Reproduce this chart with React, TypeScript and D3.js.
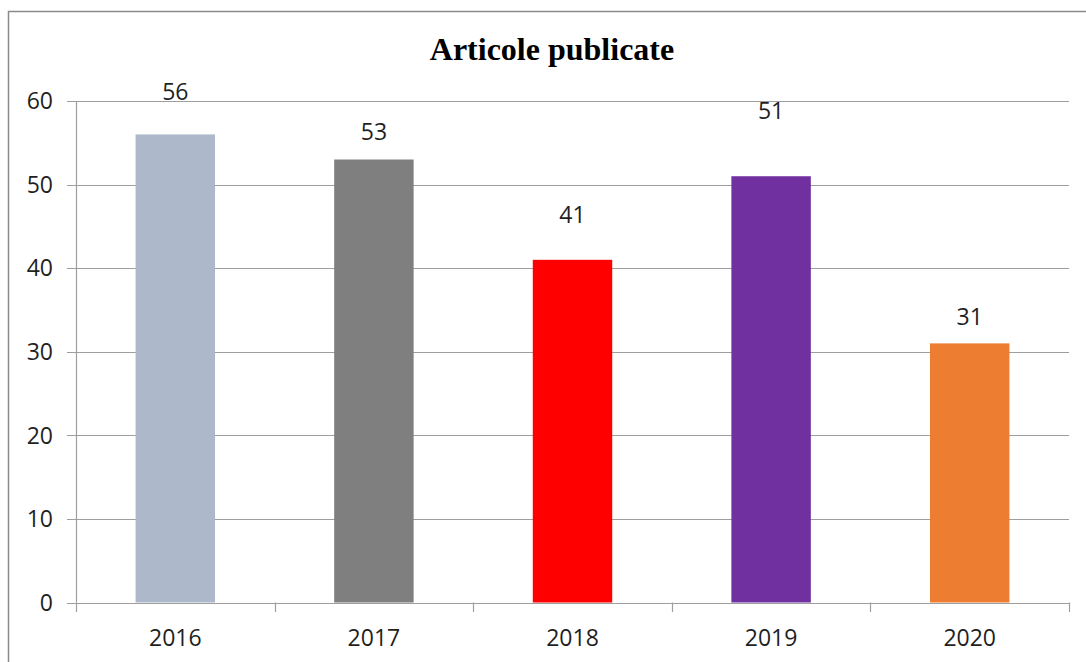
import React from "react";
import * as d3 from "d3";

const categories = ["2016", "2017", "2018", "2019", "2020"];
const values = [56, 53, 41, 51, 31];
const barColors = ["#ADB9CA", "#7F7F7F", "#FF0000", "#7030A0", "#ED7D31"];
const yTicks = [0, 10, 20, 30, 40, 50, 60];
const title = "Articole publicate";

// layout: manual label lift above each bar top (px)
const labelLift = [34, 19.5, 36.5, 57, 18.5];

const W = 1086;
const H = 662;
const plot = { left: 76, right: 1069, top: 101, bottom: 602.5 };
const textFont = "'Open Sans', 'Liberation Sans', sans-serif";
const textColor = "#1f1f1f";
const gridColor = "#9e9e9e";

export default function App() {
  const x = d3
    .scaleBand<string>()
    .domain(categories)
    .range([plot.left, plot.right])
    .paddingInner(0)
    .paddingOuter(0);
  const y = d3.scaleLinear().domain([0, 60]).range([plot.bottom, plot.top]);
  const bw = x.bandwidth() * 0.4;
  const boundaries = [...categories.map((c) => x(c)!), plot.right];

  return (
    <svg
      width={W}
      height={H}
      style={{ position: "absolute", left: 0, top: 0, background: "#fff" }}
    >
      {/* outer frame (cut at right/bottom) */}
      <path
        d={`M8.5,${H + 5} L8.5,11.5 L${W + 5},11.5`}
        fill="none"
        stroke="#8a8a8a"
        strokeWidth={1.5}
      />
      <text
        x={552}
        y={60}
        textAnchor="middle"
        fontFamily="'Liberation Serif', 'Times New Roman', serif"
        fontWeight="bold"
        fontSize={32}
        fill="#000"
      >
        {title}
      </text>

      {/* gridlines + y ticks */}
      {yTicks.map((t) => (
        <g key={t}>
          <line
            x1={plot.left - 9}
            x2={plot.right}
            y1={Math.round(y(t)) + 0.5}
            y2={Math.round(y(t)) + 0.5}
            stroke={gridColor}
            strokeWidth={1}
          />
          <text
            x={53}
            y={y(t)}
            dy="0.36em"
            textAnchor="end"
            fontFamily={textFont}
            fontSize={23}
            fill={textColor}
          >
            {t}
          </text>
        </g>
      ))}
      {/* y axis */}
      <line
        x1={plot.left + 0.5}
        x2={plot.left + 0.5}
        y1={plot.top}
        y2={plot.bottom}
        stroke={gridColor}
        strokeWidth={1.2}
      />

      {/* bars */}
      {categories.map((c, i) => {
        const cx = x(c)! + x.bandwidth() / 2;
        return (
          <g key={c}>
            <rect
              x={cx - bw / 2}
              y={y(values[i])}
              width={bw}
              height={y(0) - y(values[i])}
              fill={barColors[i]}
            />
            <text
              x={cx}
              y={y(values[i]) - labelLift[i]}
              textAnchor="middle"
              fontFamily={textFont}
              fontSize={23}
              fill={textColor}
            >
              {values[i]}
            </text>
            <text
              x={cx}
              y={646}
              textAnchor="middle"
              fontFamily={textFont}
              fontSize={23}
              fill={textColor}
            >
              {c}
            </text>
          </g>
        );
      })}

      {/* x axis line and category ticks */}
      <line
        x1={plot.left - 9}
        x2={plot.right}
        y1={Math.round(y(0)) + 0.5}
        y2={Math.round(y(0)) + 0.5}
        stroke={gridColor}
        strokeWidth={1.2}
      />
      {boundaries.map((b, i) => (
        <line
          key={i}
          x1={Math.round(b) + 0.5}
          x2={Math.round(b) + 0.5}
          y1={y(0)}
          y2={y(0) + 9.5}
          stroke={gridColor}
          strokeWidth={1.2}
        />
      ))}
    </svg>
  );
}
